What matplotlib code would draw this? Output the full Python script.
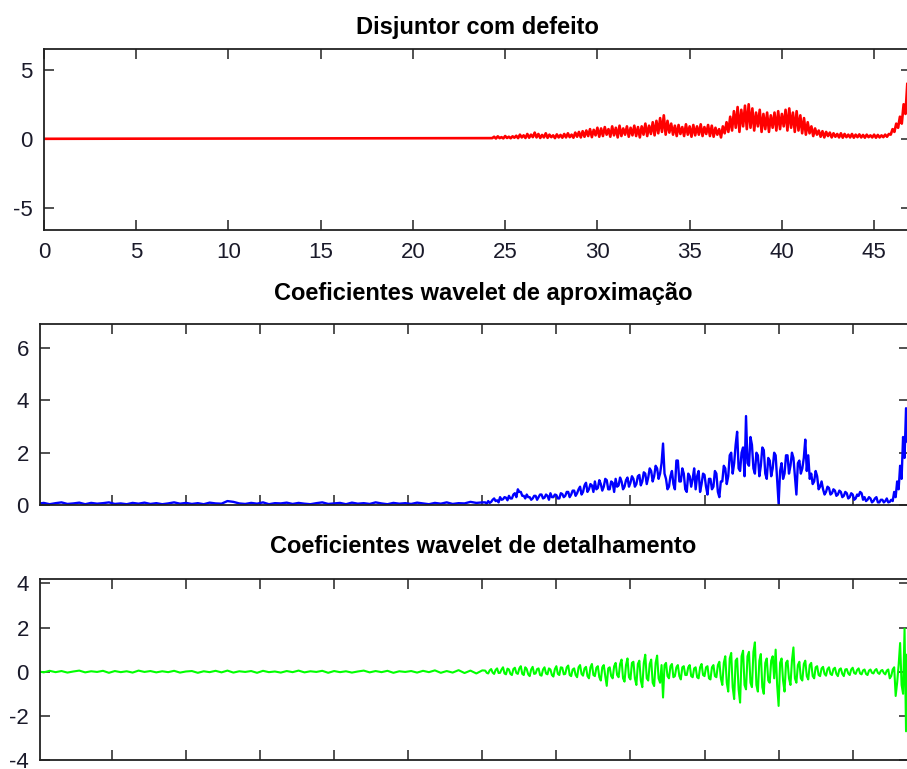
import numpy as np
import matplotlib
matplotlib.use("Agg")
import matplotlib.pyplot as plt

plt.rcParams["font.family"] = ["Liberation Sans", "DejaVu Sans"]
plt.rcParams["axes.unicode_minus"] = False

# --- top panel: breaker signal (time in s) ---
red_t0 = 24.3
red_dt = 0.1
red_vals = [
    0.05, 0.15, 0.02, 0.18, 0.05, 0.12, 0.03, 0.2, 0.06, 0.15,
    0.04, 0.18, 0.08, 0.22, 0.05, 0.3, 0.1, 0.25, 0.06, 0.35,
    0.08, 0.3, 0.12, 0.45, 0.1, 0.35, 0.06, 0.28, 0.1, 0.4,
    0.07, 0.3, 0.12, 0.25, 0.05, 0.32, 0.1, 0.28, 0.08, 0.35,
    0.1, 0.4, 0.12, 0.3, 0.08, 0.45, 0.15, 0.5, 0.1, 0.55,
    0.15, 0.6, 0.2, 0.7, 0.12, 0.65, 0.25, 0.8, 0.15, 0.75,
    0.2, 0.85, 0.3, 0.7, 0.15, 0.9, 0.25, 0.8, 0.1, 0.95,
    0.2, 0.75, 0.3, 0.9, 0.15, 0.8, 0.25, 0.95, 0.2, 0.85,
    0.1, 0.9, 0.3, 1.1, 0.2, 0.95, 0.35, 1.2, 0.25, 1.3,
    0.4, 1.5, 0.5, 1.7, 0.3, 1.3, 0.45, 1.1, 0.3, 0.95,
    0.2, 1.0, 0.35, 0.85, 0.2, 1.05, 0.3, 0.9, 0.15, 1.0,
    0.25, 0.9, 0.3, 1.05, 0.2, 0.85, 0.35, 1.0, 0.2, 0.95,
    0.15, 0.8, 0.3, 0.7, 0.1, 0.9, 0.4, 1.2, 0.5, 1.6,
    0.6, 2.0, 0.8, 2.3, 0.5, 2.1, 0.9, 2.4, 0.7, 2.5,
    0.8, 2.2, 0.6, 1.9, 0.9, 2.1, 0.5, 1.8, 0.7, 1.9,
    0.5, 1.7, 0.8, 1.9, 0.6, 2.0, 0.7, 1.8, 0.9, 2.1,
    0.6, 2.2, 0.8, 1.9, 0.5, 2.0, 0.6, 1.7, 0.4, 1.5,
    0.3, 1.2, 0.4, 0.9, 0.2, 0.75, 0.3, 0.6, 0.15, 0.55,
    0.1, 0.5, 0.2, 0.45, 0.1, 0.4, 0.15, 0.35, 0.1, 0.4,
    0.08, 0.35, 0.12, 0.3, 0.1, 0.35, 0.08, 0.3, 0.12, 0.32,
    0.1, 0.28, 0.08, 0.3, 0.12, 0.25, 0.1, 0.3, 0.08, 0.28,
    0.1, 0.25, 0.12, 0.3, 0.15, 0.35, 0.3, 0.7, 0.5, 1.1,
    0.8, 1.6, 1.1, 2.5, 1.8, 4.0, 2.6, 4.5, 3.0, 5.0,
]

# --- wavelet coefficients (sample index) ---
# quiet part, every 8 samples up to 600
quiet_step = 8
quiet_end = 600
approx_quiet = [
    0.05, 0.08, 0.03, 0.07, 0.1, 0.04, 0.06, 0.09, 0.03, 0.08,
    0.05, 0.07, 0.1, 0.04, 0.06, 0.03, 0.08, 0.05, 0.09, 0.04,
    0.07, 0.03, 0.06, 0.1, 0.05, 0.08, 0.04, 0.07, 0.03, 0.09,
    0.06, 0.05, 0.15, 0.12, 0.06, 0.04, 0.08, 0.05, 0.1, 0.03,
    0.07, 0.06, 0.09, 0.04, 0.08, 0.05, 0.03, 0.07, 0.1, 0.04,
    0.06, 0.08, 0.03, 0.09, 0.05, 0.07, 0.04, 0.1, 0.06, 0.03,
    0.08, 0.05, 0.07, 0.04, 0.09, 0.06, 0.03, 0.08, 0.05, 0.1,
    0.04, 0.07, 0.06, 0.12, 0.08, 0.1,
]
detail_quiet = [
    0.02, -0.03, 0.04, -0.02, 0.03, -0.04, 0.01, 0.05, -0.03, 0.02,
    -0.01, 0.04, -0.05, 0.03, -0.02, 0.02, -0.04, 0.05, -0.01, 0.03,
    -0.03, 0.02, -0.02, 0.04, -0.04, 0.01, 0.03, -0.05, 0.02, -0.02,
    0.04, -0.03, 0.05, -0.04, 0.02, -0.01, 0.03, -0.05, 0.04, -0.02,
    0.01, -0.04, 0.03, -0.02, 0.05, -0.03, 0.02, -0.01, 0.04, -0.05,
    0.03, -0.02, 0.02, -0.04, 0.01, 0.05, -0.03, 0.03, -0.02, 0.04,
    -0.05, 0.02, -0.01, 0.03, -0.04, 0.04, -0.02, 0.06, -0.05, 0.03,
    -0.04, 0.07, -0.06, 0.05, -0.08, 0.06,
]
# active part, every 2 samples from 604
active_start = 604
active_step = 2
approx_active = [
    0.1, 0.05, 0.15, 0.08, 0.12, 0.2, 0.25, 0.15, 0.18, 0.1,
    0.3, 0.2, 0.22, 0.3, 0.28, 0.18, 0.35, 0.25, 0.25, 0.4,
    0.45, 0.3, 0.6, 0.5, 0.5, 0.35, 0.35, 0.25, 0.4, 0.3,
    0.3, 0.2, 0.25, 0.35, 0.35, 0.2, 0.3, 0.4, 0.4, 0.25,
    0.28, 0.4, 0.35, 0.2, 0.45, 0.3, 0.3, 0.4, 0.38, 0.25,
    0.25, 0.45, 0.42, 0.3, 0.35, 0.5, 0.5, 0.3, 0.4, 0.55,
    0.55, 0.35, 0.45, 0.6, 0.7, 0.4, 0.5, 0.75, 0.85, 0.5,
    0.6, 0.8, 0.75, 0.5, 0.9, 0.6, 0.65, 0.95, 0.8, 0.55,
    0.7, 1.0, 0.95, 0.6, 0.6, 0.9, 0.85, 0.5, 1.0, 0.7,
    0.75, 1.05, 0.9, 0.6, 0.7, 0.95, 1.05, 0.7, 0.85, 1.1,
    1.0, 0.7, 0.8, 1.1, 1.15, 0.75, 0.9, 1.25, 1.2, 0.8,
    1.05, 1.4, 1.3, 0.9, 1.1, 1.5, 1.4, 1.0, 1.2, 1.6,
    2.35, 1.2, 1.0, 0.6, 0.7, 1.1, 1.3, 0.8, 0.6, 1.7,
    1.7, 0.9, 0.9, 1.4, 1.2, 0.6, 0.5, 1.2, 1.1, 0.7,
    1.0, 1.4, 0.6, 1.1, 1.3, 0.5, 0.8, 1.2, 1.15, 0.7,
    0.4, 1.0, 1.0, 0.6, 0.7, 1.3, 1.2, 0.5, 0.3, 0.9,
    0.9, 1.5, 1.4, 0.8, 1.1, 1.9, 2.0, 1.2, 1.6, 2.3,
    2.8, 1.4, 1.3, 2.0, 2.2, 1.1, 3.4, 1.6, 1.5, 2.6,
    2.3, 1.4, 1.2, 2.0, 1.9, 1.1, 1.5, 2.2, 2.1, 1.2,
    1.0, 1.8, 1.7, 1.1, 1.4, 2.0, 1.9, 1.0, 0.05, 1.3,
    1.6, 1.0, 1.2, 1.9, 1.9, 1.2, 1.5, 2.0, 1.8, 1.1,
    0.4, 1.6, 1.7, 1.2, 1.4, 1.8, 2.5, 1.3, 1.9, 1.0,
    1.2, 0.8, 0.9, 1.3, 1.1, 0.6, 0.7, 0.9, 0.6, 0.4,
    0.5, 0.7, 0.65, 0.4, 0.45, 0.6, 0.55, 0.35, 0.4, 0.55,
    0.5, 0.3, 0.35, 0.5, 0.45, 0.25, 0.3, 0.45, 0.4, 0.2,
    0.25, 0.4, 0.35, 0.5, 0.45, 0.2, 0.3, 0.15, 0.2, 0.3,
    0.25, 0.1, 0.15, 0.25, 0.3, 0.1, 0.1, 0.2, 0.2, 0.1,
    0.15, 0.25, 0.1, 0.12, 0.2, 0.15, 0.5, 0.3, 0.9, 0.6,
    1.5, 1.0, 2.6, 1.8, 3.7, 2.4, 3.2,
]
detail_active = [
    0.05, -0.05, -0.08, 0.06, 0.12, -0.04, -0.1, 0.08, 0.15, -0.06,
    -0.05, 0.1, 0.2, -0.08, -0.12, 0.14, 0.1, -0.1, -0.15, 0.12,
    0.18, -0.06, -0.1, 0.15, 0.25, -0.1, -0.15, 0.2, 0.12, -0.12,
    -0.2, 0.1, 0.22, -0.1, -0.08, 0.12, 0.15, -0.15, -0.18, 0.1,
    0.2, -0.08, -0.12, 0.15, 0.1, -0.15, -0.22, 0.12, 0.25, -0.1,
    -0.15, 0.2, 0.18, -0.12, -0.1, 0.2, 0.28, -0.15, -0.2, 0.1,
    0.15, -0.15, -0.25, 0.2, 0.3, -0.1, -0.18, 0.15, 0.22, -0.2,
    -0.3, 0.2, 0.35, -0.15, -0.2, 0.18, 0.25, -0.25, -0.4, 0.2,
    0.3, -0.2, -0.64, 0.15, 0.2, -0.2, -0.3, 0.25, 0.4, -0.15,
    -0.25, 0.35, 0.55, -0.3, -0.45, 0.3, 0.6, -0.25, -0.35, 0.4,
    0.45, -0.3, -0.6, 0.35, 0.5, -0.4, -0.7, 0.4, 0.77, -0.3,
    -0.4, 0.35, 0.55, -0.5, -0.65, 0.4, 0.73, -0.3, -0.5, 0.3,
    -1.17, 0.3, 0.4, -0.2, -0.3, 0.25, 0.35, -0.25, -0.2, 0.2,
    0.3, -0.2, -0.35, 0.2, 0.25, -0.15, -0.15, 0.2, 0.3, -0.2,
    -0.25, 0.15, 0.2, -0.25, -0.3, 0.2, 0.35, -0.15, -0.2, 0.2,
    0.25, -0.3, -0.35, 0.2, 0.3, -0.2, -0.25, 0.3, 0.45, -0.3,
    -0.6, 0.4, 0.7, -0.5, -0.9, 0.6, 0.85, -0.7, -1.24, 0.5,
    0.6, -0.8, -1.4, 0.7, 0.95, -0.6, -0.8, 0.7, 0.9, -0.5,
    -0.7, 0.9, 1.33, -0.6, -0.9, 0.5, 0.8, -0.7, -1.0, 0.4,
    0.6, -0.4, -0.5, 0.5, 0.7, -0.3, 1.0, -0.6, -1.55, 0.4,
    0.6, -0.4, -0.9, 0.4, 0.5, -0.3, -0.6, 0.5, 1.1, -0.3,
    -0.5, 0.3, 0.45, -0.3, -0.4, 0.35, 0.5, -0.2, -0.35, 0.3,
    0.4, -0.2, -0.3, 0.2, 0.25, -0.15, -0.2, 0.15, 0.22, -0.1,
    -0.18, 0.12, 0.2, -0.1, -0.15, 0.12, 0.18, -0.1, -0.2, 0.1,
    0.15, -0.1, -0.2, 0.1, 0.12, -0.08, -0.15, 0.1, 0.18, -0.06,
    -0.1, 0.08, 0.15, -0.08, -0.12, 0.06, 0.1, -0.1, -0.15, 0.05,
    0.1, -0.05, -0.08, 0.06, 0.12, -0.05, -0.1, 0.04, 0.08, -0.06,
    -0.12, 0.05, 0.1, -0.3, -0.2, 0.1, 0.2, -1.1, -0.5, 0.3,
    1.3, -0.6, -1.0, 1.95, -2.7, 0.8, -1.5,
]

titles = ["Disjuntor com defeito",
          "Coeficientes wavelet de aproxima\u00e7\u00e3o",
          "Coeficientes wavelet de detalhamento"]

t_red = np.concatenate([[0.0], red_t0 + red_dt * np.arange(len(red_vals))])
y_red = np.concatenate([[0.0], red_vals])

idx = np.concatenate([np.arange(0, quiet_end + 1, quiet_step),
                      active_start + active_step * np.arange(len(approx_active))])
y_approx = np.array(approx_quiet + approx_active)
y_detail = np.array(detail_quiet + detail_active)

W, H = 907, 769
fig = plt.figure(figsize=(W / 100, H / 100), dpi=100)

def box(l, r, t, b):
    return [l / W, 1 - b / H, (r - l) / W, (b - t) / H]

def style(ax):
    for s in ax.spines.values():
        s.set_linewidth(1.3)
        s.set_color("#222222")
    ax.tick_params(direction="in", length=7, width=1.1, top=True, right=True,
                   labelsize=16, colors="#222222", labelcolor="#1a1a2a")
    ax.tick_params(axis="x", pad=9)
    ax.tick_params(axis="y", pad=8)

ax1 = fig.add_axes(box(44, 911, 49, 230))
ax1.plot(t_red, y_red, color="#ff0000", lw=1.9)
ax1.set_xlim(0, 47)
ax1.set_ylim(-6.6, 6.5)
ax1.set_xticks(np.arange(0, 46, 5))
ax1.set_yticks([-5, 0, 5])
style(ax1)
ax1.set_title(titles[0], fontsize=17, fontweight="bold", pad=11)

ax2 = fig.add_axes(box(40, 909, 324, 505))
ax2.plot(idx, y_approx, color="#0000ff", lw=1.7)
ax2.set_xlim(3, 1176)
ax2.set_ylim(0, 6.92)
ax2.set_xticks(np.arange(100, 1101, 100))
ax2.set_xticklabels([])
ax2.set_yticks([0, 2, 4, 6])
style(ax2)
ax2.set_title(titles[1], fontsize=17, fontweight="bold", pad=17, x=0.51)

ax3 = fig.add_axes(box(40, 909, 579, 760))
ax3.plot(idx, y_detail, color="#00ff00", lw=1.5)
ax3.set_xlim(3, 1176)
ax3.set_ylim(-4, 4.2)
ax3.set_xticks(np.arange(100, 1101, 100))
ax3.set_xticklabels([])
ax3.set_yticks([-4, -2, 0, 2, 4])
style(ax3)
ax3.set_title(titles[2], fontsize=17, fontweight="bold", pad=19, x=0.51)

fig.savefig("out.png", dpi=100)
